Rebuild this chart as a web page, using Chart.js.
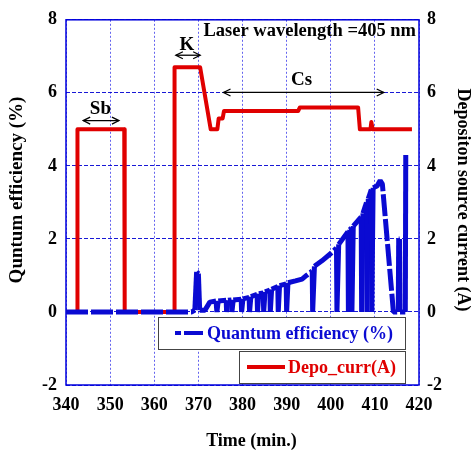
<!DOCTYPE html>
<html>
<head>
<meta charset="utf-8">
<script src="https://cdn.jsdelivr.net/npm/chart.js@4/dist/chart.umd.min.js"></script>
<style>
html,body{margin:0;padding:0;background:#fff;}
#wrap{width:471px;height:450px;position:relative;}
</style>
</head>
<body>
<div id="wrap"><canvas id="c" width="471" height="450"></canvas></div>
<script>
// ---- Data ----
const xTicks = [340, 350, 360, 370, 380, 390, 400, 410, 420];
const yTicks = [-2, 0, 2, 4, 6, 8];

const qeX = [340, 368.5, 369.2, 369.6, 370.0, 370.3, 371.5, 372.6, 374.0, 374.2, 374.5, 376.3, 376.4, 376.7,
  377.5, 377.6, 377.9, 379.7, 379.8, 380.1, 381.5, 381.6, 381.9, 383.3, 383.4, 383.7, 384.7, 384.8, 385.1,
  386.2, 386.3, 386.6, 388.0, 388.1, 388.4, 389.9, 390.0, 390.3, 392.0, 393.5, 394.5, 395.8, 395.9, 396.3,
  398.0, 400.0, 401.3, 401.4, 401.8, 403.0, 403.9, 404.0, 404.3, 404.7, 404.8, 405.1, 406.9, 407.0, 407.3,
  408.1, 408.2, 408.5, 409.2, 409.3, 409.6, 410.5, 411.2, 411.7, 414.2, 415.3, 415.4, 415.6, 415.7, 416.9, 417.0];
const qeY = [0, 0, 0.05, 1.1, 1.05, 0.05, 0.05, 0.27, 0.3, 0, 0.3, 0.32, 0, 0.32,
  0.33, 0, 0.33, 0.35, 0, 0.36, 0.4, 0, 0.42, 0.48, 0, 0.5, 0.52, 0, 0.55,
  0.6, 0, 0.62, 0.7, 0, 0.72, 0.77, 0, 0.8, 0.85, 0.9, 1.0, 1.12, 0, 1.25,
  1.4, 1.6, 1.75, 0, 1.85, 2.05, 2.2, 0, 2.25, 2.3, 0, 2.35, 2.6, 0, 2.7,
  3.0, 0, 3.1, 3.35, 0, 3.4, 3.45, 3.6, 3.5, 0, 0, 2.0, 2.0, 0, 0, 4.3];

const depoX = [340, 342.5, 342.6, 353.2, 353.3, 364.5, 364.6, 370.4, 372.8, 374.3, 374.6, 375.5, 375.8,
  392.6, 393.0, 406.2, 406.6, 409.0, 409.2, 409.5, 418.4];
const depoY = [0, 0, 5, 5, 0, 0, 6.7, 6.7, 5.0, 5.0, 5.3, 5.3, 5.5,
  5.5, 5.6, 5.6, 5.0, 5.0, 5.2, 5.0, 5.0];

const seriesNames = ['Quantum efficiency (%)', 'Depo_curr(A)'];
const xTitle = 'Time (min.)';
const yTitle = 'Quntum efficiency (%)';
const y2Title = 'Depositon source current (A)';
const noteText = 'Laser wavelength =405 nm';
// annotations: [label, labelX, labelY, arrowFrom, arrowTo, arrowY]
const notes = [
  ['Sb', 347.8, 5.55, 343.9, 352.0, 5.24],
  ['K', 367.4, 7.3, 364.9, 370.4, 7.03],
  ['Cs', 393.4, 6.35, 375.7, 412.0, 6.01]
];

const FONT = "'Liberation Serif', 'Times New Roman', serif";
const BLUE = '#0a0ad2';
const RED = '#e00000';

function pts(xs, ys){ return xs.map((v,i)=>({x:v, y:ys[i]})); }

const deco = {
  id: 'deco',
  beforeDatasetsDraw(chart){
    const {ctx, chartArea:a} = chart;
    ctx.save();
    ctx.strokeStyle = '#0000dd';
    ctx.lineWidth = 1.5;
    ctx.strokeRect(a.left, a.top, a.right - a.left, a.bottom - a.top);
    ctx.restore();
  },
  afterDatasetsDraw(chart){
    const {ctx, scales:{x, y}, chartArea:a} = chart;
    ctx.save();
    // annotations
    ctx.fillStyle = '#000';
    ctx.strokeStyle = '#000';
    ctx.font = 'bold 19px ' + FONT;
    ctx.textAlign = 'center';
    ctx.textBaseline = 'middle';
    notes.forEach(n=>{
      ctx.fillText(n[0], x.getPixelForValue(n[1]), y.getPixelForValue(n[2]));
      const x1 = x.getPixelForValue(n[3]), x2 = x.getPixelForValue(n[4]), yy = y.getPixelForValue(n[5]);
      ctx.lineWidth = 1.3;
      ctx.beginPath(); ctx.moveTo(x1, yy); ctx.lineTo(x2, yy); ctx.stroke();
      ctx.beginPath();
      ctx.moveTo(x1+7, yy-3.5); ctx.lineTo(x1, yy); ctx.lineTo(x1+7, yy+3.5);
      ctx.moveTo(x2-7, yy-3.5); ctx.lineTo(x2, yy); ctx.lineTo(x2-7, yy+3.5);
      ctx.stroke();
    });
    ctx.textAlign = 'right';
    ctx.font = 'bold 18.5px ' + FONT;
    ctx.fillText(noteText, a.right - 3, y.getPixelForValue(7.68));

    // legend boxes
    ctx.lineWidth = 1;
    ctx.strokeStyle = '#444';
    ctx.fillStyle = '#fff';
    ctx.fillRect(158, 317, 247, 32); ctx.strokeRect(158.5, 317.5, 247, 32);
    ctx.fillRect(239, 351, 166, 32); ctx.strokeRect(239.5, 351.5, 166, 32);
    ctx.lineWidth = 4;
    ctx.strokeStyle = BLUE;
    ctx.setLineDash([6, 3, 19, 3]);
    ctx.beginPath(); ctx.moveTo(175, 333); ctx.lineTo(204, 333); ctx.stroke();
    ctx.setLineDash([]);
    ctx.strokeStyle = RED;
    ctx.beginPath(); ctx.moveTo(247, 367); ctx.lineTo(285, 367); ctx.stroke();
    ctx.font = 'bold 18px ' + FONT;
    ctx.textAlign = 'left';
    ctx.fillStyle = BLUE;
    ctx.fillText(seriesNames[0], 207, 334);
    ctx.fillStyle = RED;
    ctx.fillText(seriesNames[1], 288, 368);
    ctx.restore();
  },
  afterDraw(chart){
    const {ctx, chartArea:a} = chart;
    ctx.save();
    ctx.fillStyle = '#000';
    ctx.font = 'bold 18px ' + FONT;
    ctx.textAlign = 'center';
    ctx.textBaseline = 'middle';
    ctx.fillText(xTitle, (a.left + a.right)/2 + 9, 441);
    ctx.save();
    ctx.translate(17, 190);
    ctx.rotate(-Math.PI/2);
    ctx.font = 'bold 19px ' + FONT;
    ctx.fillText(yTitle, 0, 0);
    ctx.restore();
    ctx.save();
    ctx.translate(463, 200);
    ctx.rotate(Math.PI/2);
    ctx.font = 'bold 18px ' + FONT;
    ctx.fillText(y2Title, 0, 0);
    ctx.restore();
    ctx.restore();
  }
};

const tickFont = {family: FONT, size: 18, weight: 'bold'};

new Chart(document.getElementById('c'), {
  type: 'line',
  data: {
    datasets: [
      {label: seriesNames[0], data: pts(qeX, qeY), yAxisID: 'y', borderColor: BLUE, borderWidth: 5,
       borderDash: [22, 3], pointRadius: 0, tension: 0, order: 0, borderJoinStyle: 'bevel', borderCapStyle: 'butt',
       segment: {
         borderDash: c => (Math.abs(c.p1.parsed.x - c.p0.parsed.x) < 0.45 && Math.abs(c.p1.parsed.y - c.p0.parsed.y) > 0.2) ? [] : [22, 3]
       }},
      {label: seriesNames[1], data: pts(depoX, depoY), yAxisID: 'y2', borderColor: RED, borderWidth: 4,
       pointRadius: 0, tension: 0, order: 1, borderJoinStyle: 'round'}
    ]
  },
  options: {
    responsive: false,
    animation: false,
    layout: {padding: {top: 16, left: 0, right: 0, bottom: 0}},
    plugins: {legend: {display: false}, tooltip: {enabled: false}},
    scales: {
      x: {
        type: 'linear', min: 340, max: 420,
        afterBuildTicks: s => { s.ticks = xTicks.map(v=>({value:v})); },
        afterFit: s => { s.height = 65; },
        ticks: {font: tickFont, color: '#000', padding: 10},
        grid: {color: 'rgba(60,60,235,0.8)', lineWidth: 1, drawTicks: false},
        border: {display: false, dash: [2, 2]}
      },
      y: {
        position: 'left', min: -2, max: 8,
        afterBuildTicks: s => { s.ticks = yTicks.map(v=>({value:v})); },
        afterFit: s => { s.width = 66; },
        ticks: {font: tickFont, color: '#000', padding: 9},
        grid: {color: 'rgba(0,0,210,0.9)', lineWidth: 1, drawTicks: false},
        border: {display: false, dash: [4, 2]}
      },
      y2: {
        position: 'right', min: -2, max: 8,
        afterBuildTicks: s => { s.ticks = yTicks.map(v=>({value:v})); },
        afterFit: s => { s.width = 52; },
        ticks: {font: tickFont, color: '#000', padding: 8},
        grid: {display: false, drawTicks: false},
        border: {display: false}
      }
    }
  },
  plugins: [deco]
});
</script>
</body>
</html>
